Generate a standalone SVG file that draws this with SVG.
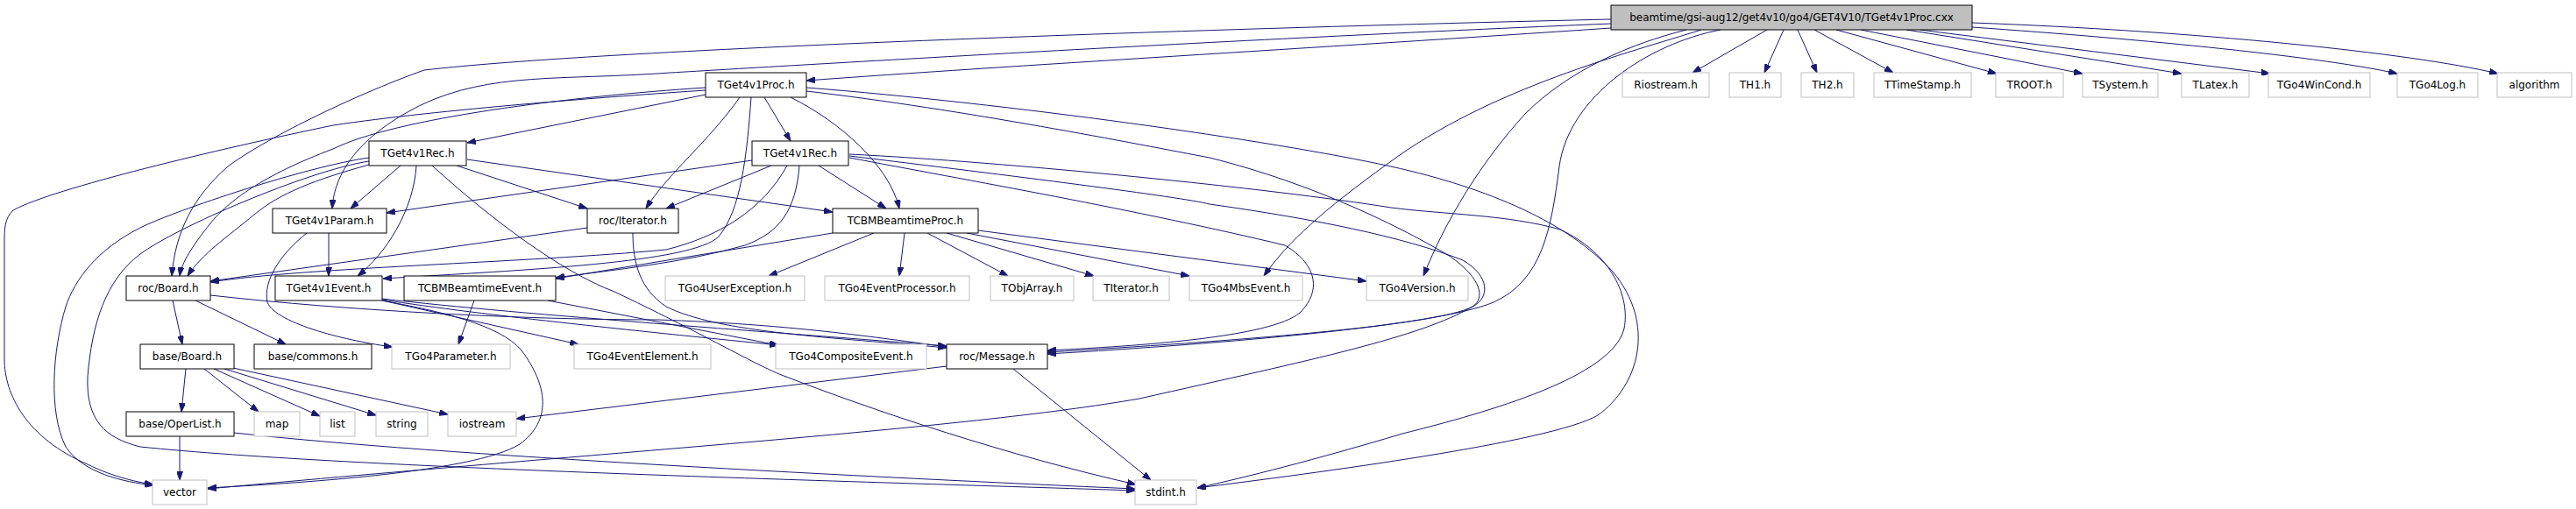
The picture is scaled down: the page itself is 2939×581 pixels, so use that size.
<svg xmlns="http://www.w3.org/2000/svg" width="2939" height="581" viewBox="0 0 2939 581">
<style>
.node rect{fill:#ffffff;stroke:#000000;stroke-width:1}
.node.sys rect{stroke:#bfbfbf}
.node.main rect{fill:#bfbfbf}
.node text{font-family:"DejaVu Sans","Liberation Sans",sans-serif;font-size:12px;text-anchor:middle;fill:#000}
#edges path{fill:none;stroke:#191970;stroke-width:1;marker-end:url(#arr)}
</style>
<defs>
<marker id="arr" markerUnits="userSpaceOnUse" viewBox="0 0 10 7" markerWidth="10" markerHeight="7" refX="10" refY="3.5" orient="auto">
<path d="M0,0 L10,3.5 L0,7 z" fill="#191970" stroke="#191970"/>
</marker>
</defs>
<rect width="2939" height="581" fill="#ffffff"/>
<g id="edges">
<path d="M1838,32 C1500,55 1150,75 920,92"/>
<path d="M1838,27 C1400,45 900,75 765,83 C640,92 560,82 480,120 C400,160 381,205 379,238"/>
<path d="M1838,22 C1400,32 700,55 484,80 C400,110 300,160 260,190 C220,225 200,265 196,315"/>
<path d="M2016,34 L1931,83"/>
<path d="M2035,34 L2013,83"/>
<path d="M2051,34 L2073,83"/>
<path d="M2070,34 L2160,83"/>
<path d="M2095,34 L2278,84"/>
<path d="M2123,34 L2376,84"/>
<path d="M2175,34 L2489,84"/>
<path d="M2190,34 L2590,84"/>
<path d="M2250,31 C2450,45 2650,65 2735,84"/>
<path d="M2250,26 C2500,35 2750,60 2850,84"/>
<path d="M1941,34 C1860,60 1700,100 1583,187 C1510,240 1470,275 1442,315"/>
<path d="M1924,34 C1860,50 1790,80 1740,130 C1690,185 1650,250 1624,315"/>
<path d="M1963,34 C1880,50 1790,110 1779,190 C1770,260 1760,320 1704,345 C1640,372 1400,392 1195,404"/>
<path d="M805,108 L533,163"/>
<path d="M872,111 L902,161"/>
<path d="M844,111 C810,160 760,200 737,238"/>
<path d="M902,111 C960,140 1015,190 1026,238"/>
<path d="M857,111 C852,180 845,240 820,270 C790,300 600,308 437,318"/>
<path d="M805,103 C700,110 500,125 380,143 C250,170 60,215 15,240 C5,250 5,260 5,280 L5,410 C5,450 30,500 100,530 C130,545 160,551 175,553"/>
<path d="M805,100 C650,110 450,135 380,170 C300,200 260,230 240,255 C220,280 207,300 205,315"/>
<path d="M920,104 C1100,125 1300,165 1380,180 C1500,210 1600,260 1655,293 C1690,318 1695,340 1680,350 C1640,372 1400,390 1195,402"/>
<path d="M920,100 C1150,118 1450,160 1587,190 C1700,215 1790,255 1840,310 C1890,370 1870,440 1823,474 C1770,505 1500,540 1366,557"/>
<path d="M858,183 L441,243"/>
<path d="M880,189 L760,238"/>
<path d="M934,189 L1011,238"/>
<path d="M898,189 C870,240 820,270 760,285 C600,300 350,305 240,322"/>
<path d="M912,189 C908,240 890,265 850,280 C780,300 700,308 634,317"/>
<path d="M969,180 C1100,205 1300,240 1466,280 C1500,300 1510,330 1483,357 C1450,385 1300,395 1195,400"/>
<path d="M969,178 C1150,200 1350,225 1380,233 C1500,250 1600,270 1669,297 C1700,315 1700,340 1680,350 C1620,385 1500,410 1300,455 C1100,490 700,515 237,558"/>
<path d="M969,176 C1150,185 1450,215 1587,237 C1650,245 1720,245 1780,262 C1840,290 1860,340 1853,375 C1840,430 1700,470 1600,495 C1500,525 1420,545 1366,557"/>
<path d="M457,189 L400,238"/>
<path d="M475,189 C472,240 440,290 408,315"/>
<path d="M521,189 L670,238"/>
<path d="M533,182 L950,242"/>
<path d="M493,189 C560,250 640,310 701,333 C800,380 850,410 889,427 C1000,470 1150,520 1296,553"/>
<path d="M421,188 C360,205 320,220 290,245 C260,270 230,290 214,315"/>
<path d="M421,180 C350,190 200,240 160,260 C110,285 85,320 75,350 C60,400 55,470 75,510 C95,540 140,550 175,554"/>
<path d="M421,184 C350,195 200,260 160,290 C120,320 105,370 100,430 C98,480 120,500 160,510 C400,535 1000,550 1295,560"/>
<path d="M375,266 L375,315"/>
<path d="M350,266 C320,290 300,320 305,345 C315,370 400,390 448,396"/>
<path d="M670,260 L240,321"/>
<path d="M722,266 C722,300 730,330 760,350 C820,380 950,385 1080,397"/>
<path d="M950,266 L634,318"/>
<path d="M997,266 L877,315"/>
<path d="M1032,266 L1026,315"/>
<path d="M1058,266 L1150,315"/>
<path d="M1080,266 L1248,315"/>
<path d="M1103,266 L1357,315"/>
<path d="M1116,263 L1559,321"/>
<path d="M197,343 L208,393"/>
<path d="M223,343 L326,393"/>
<path d="M240,337 C400,355 600,365 750,365 C900,370 1000,385 1080,396"/>
<path d="M436,343 L660,393"/>
<path d="M436,342 C550,360 750,380 888,394"/>
<path d="M436,341 C600,360 900,380 1080,395"/>
<path d="M436,343 C500,355 570,370 595,400 C625,440 630,480 593,507 C540,540 330,552 237,557"/>
<path d="M541,343 L523,393"/>
<path d="M625,343 L888,394"/>
<path d="M1080,418 L589,478"/>
<path d="M1156,421 L1313,548"/>
<path d="M212,421 L207,470"/>
<path d="M233,421 L295,470"/>
<path d="M244,421 L365,475"/>
<path d="M256,421 L429,474"/>
<path d="M266,420 L511,473"/>
<path d="M205,498 L205,548"/>
<path d="M267,494 C500,520 1000,545 1295,558"/>
</g>
<g id="n_main" class="node main"><rect x="1838" y="6" width="412" height="28"/><text x="2044" y="24">beamtime/gsi-aug12/get4v10/go4/GET4V10/TGet4v1Proc.cxx</text></g>
<g id="n_proc" class="node"><rect x="805" y="83" width="115" height="28"/><text x="862.5" y="101">TGet4v1Proc.h</text></g>
<g id="n_riostream" class="node sys"><rect x="1851" y="83" width="99" height="28"/><text x="1900.5" y="101">Riostream.h</text></g>
<g id="n_th1" class="node sys"><rect x="1973" y="83" width="59" height="28"/><text x="2002.5" y="101">TH1.h</text></g>
<g id="n_th2" class="node sys"><rect x="2055" y="83" width="60" height="28"/><text x="2085" y="101">TH2.h</text></g>
<g id="n_ttimestamp" class="node sys"><rect x="2138" y="83" width="111" height="28"/><text x="2193.5" y="101">TTimeStamp.h</text></g>
<g id="n_troot" class="node sys"><rect x="2277" y="83" width="77" height="28"/><text x="2315.5" y="101">TROOT.h</text></g>
<g id="n_tsystem" class="node sys"><rect x="2376" y="83" width="86" height="28"/><text x="2419" y="101">TSystem.h</text></g>
<g id="n_tlatex" class="node sys"><rect x="2489" y="83" width="77" height="28"/><text x="2527.5" y="101">TLatex.h</text></g>
<g id="n_wincond" class="node sys"><rect x="2588" y="83" width="116" height="28"/><text x="2646" y="101">TGo4WinCond.h</text></g>
<g id="n_log" class="node sys"><rect x="2735" y="83" width="92" height="28"/><text x="2781" y="101">TGo4Log.h</text></g>
<g id="n_algorithm" class="node sys"><rect x="2849" y="83" width="85" height="28"/><text x="2891.5" y="101">algorithm</text></g>
<g id="n_rec1" class="node"><rect x="421" y="161" width="111" height="28"/><text x="476.5" y="179">TGet4v1Rec.h</text></g>
<g id="n_rec2" class="node"><rect x="858" y="161" width="110" height="28"/><text x="913" y="179">TGet4v1Rec.h</text></g>
<g id="n_param" class="node"><rect x="311" y="238" width="130" height="28"/><text x="376" y="256">TGet4v1Param.h</text></g>
<g id="n_iterator" class="node"><rect x="670" y="238" width="104" height="28"/><text x="722" y="256">roc/Iterator.h</text></g>
<g id="n_cbmproc" class="node"><rect x="950" y="238" width="166" height="28"/><text x="1033" y="256">TCBMBeamtimeProc.h</text></g>
<g id="n_rocboard" class="node"><rect x="144" y="315" width="96" height="28"/><text x="192" y="333">roc/Board.h</text></g>
<g id="n_event" class="node"><rect x="314" y="315" width="122" height="28"/><text x="375" y="333">TGet4v1Event.h</text></g>
<g id="n_cbmevent" class="node"><rect x="461" y="315" width="173" height="28"/><text x="547.5" y="333">TCBMBeamtimeEvent.h</text></g>
<g id="n_userexc" class="node sys"><rect x="759" y="315" width="159" height="28"/><text x="838.5" y="333">TGo4UserException.h</text></g>
<g id="n_evproc" class="node sys"><rect x="941" y="315" width="165" height="28"/><text x="1023.5" y="333">TGo4EventProcessor.h</text></g>
<g id="n_tobjarray" class="node sys"><rect x="1130" y="315" width="95" height="28"/><text x="1177.5" y="333">TObjArray.h</text></g>
<g id="n_titerator" class="node sys"><rect x="1247" y="315" width="87" height="28"/><text x="1290.5" y="333">TIterator.h</text></g>
<g id="n_mbsevent" class="node sys"><rect x="1357" y="315" width="129" height="28"/><text x="1421.5" y="333">TGo4MbsEvent.h</text></g>
<g id="n_version" class="node sys"><rect x="1559" y="315" width="116" height="28"/><text x="1617" y="333">TGo4Version.h</text></g>
<g id="n_baseboard" class="node"><rect x="160" y="393" width="107" height="28"/><text x="213.5" y="411">base/Board.h</text></g>
<g id="n_commons" class="node"><rect x="290" y="393" width="134" height="28"/><text x="357" y="411">base/commons.h</text></g>
<g id="n_parameter" class="node sys"><rect x="447" y="393" width="135" height="28"/><text x="514.5" y="411">TGo4Parameter.h</text></g>
<g id="n_evelement" class="node sys"><rect x="655" y="393" width="156" height="28"/><text x="733" y="411">TGo4EventElement.h</text></g>
<g id="n_composite" class="node sys"><rect x="885" y="393" width="172" height="28"/><text x="971" y="411">TGo4CompositeEvent.h</text></g>
<g id="n_message" class="node"><rect x="1080" y="393" width="115" height="28"/><text x="1137.5" y="411">roc/Message.h</text></g>
<g id="n_operlist" class="node"><rect x="144" y="470" width="123" height="28"/><text x="205.5" y="488">base/OperList.h</text></g>
<g id="n_map" class="node sys"><rect x="290" y="470" width="52" height="28"/><text x="316" y="488">map</text></g>
<g id="n_list" class="node sys"><rect x="365" y="470" width="40" height="28"/><text x="385" y="488">list</text></g>
<g id="n_string" class="node sys"><rect x="429" y="470" width="59" height="28"/><text x="458.5" y="488">string</text></g>
<g id="n_iostream" class="node sys"><rect x="511" y="470" width="78" height="28"/><text x="550" y="488">iostream</text></g>
<g id="n_vector" class="node sys"><rect x="174" y="548" width="62" height="28"/><text x="205" y="566">vector</text></g>
<g id="n_stdint" class="node sys"><rect x="1295" y="548" width="70" height="28"/><text x="1330" y="566">stdint.h</text></g>
</svg>
